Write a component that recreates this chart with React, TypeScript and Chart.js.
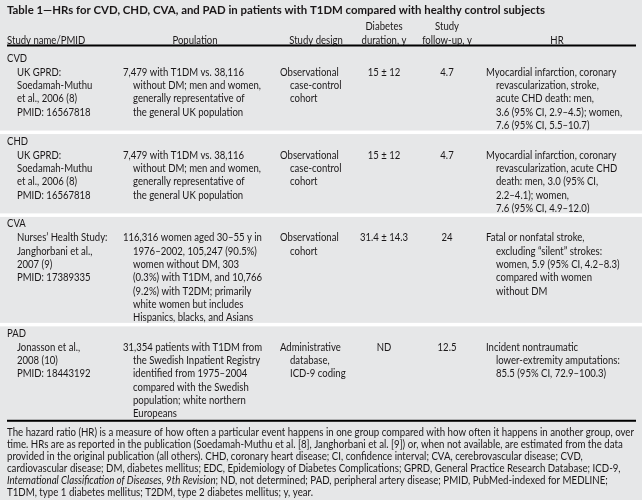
import React, { useEffect, useRef } from "react";
import { Chart, registerables } from "chart.js";

Chart.register(...registerables);

// ---------- DATA ----------
const title = "Table 1\u2014HRs for CVD, CHD, CVA, and PAD in patients with T1DM compared with healthy control subjects";

const headerStudy = ["Study name/PMID"];
const headerPopulation = ["Population"];
const headerDesign = ["Study design"];
const headerDuration = ["Diabetes", "duration, y"];
const headerFollowUp = ["Study", "follow-up, y"];
const headerHR = ["HR"];

const groups = ["CVD", "CHD", "CVA", "PAD"];

const studies = [
  ["UK GPRD:", "Soedamah-Muthu", "et al., 2006 (8)", "PMID: 16567818"],
  ["UK GPRD:", "Soedamah-Muthu", "et al., 2006 (8)", "PMID: 16567818"],
  ["Nurses\u2019 Health Study:", "Janghorbani et al.,", "2007 (9)", "PMID: 17389335"],
  ["Jonasson et al.,", "2008 (10)", "PMID: 18443192"],
];

const populations = [
  ["7,479 with T1DM vs. 38,116", "without DM; men and women,", "generally representative of", "the general UK population"],
  ["7,479 with T1DM vs. 38,116", "without DM; men and women,", "generally representative of", "the general UK population"],
  [
    "116,316 women aged 30\u201355 y in",
    "1976\u20132002, 105,247 (90.5%)",
    "women without DM, 303",
    "(0.3%) with T1DM, and 10,766",
    "(9.2%) with T2DM; primarily",
    "white women but includes",
    "Hispanics, blacks, and Asians",
  ],
  [
    "31,354 patients with T1DM from",
    "the Swedish Inpatient Registry",
    "identified from 1975\u20132004",
    "compared with the Swedish",
    "population; white northern",
    "Europeans",
  ],
];

const designs = [
  ["Observational", "case-control", "cohort"],
  ["Observational", "case-control", "cohort"],
  ["Observational", "cohort"],
  ["Administrative", "database,", "ICD-9 coding"],
];

const durations = ["15 \u00b1 12", "15 \u00b1 12", "31.4 \u00b1 14.3", "ND"];
const followUps = ["4.7", "4.7", "24", "12.5"];

const hrs = [
  [
    "Myocardial infarction, coronary",
    "revascularization, stroke,",
    "acute CHD death: men,",
    "3.6 (95% CI, 2.9\u20134.5); women,",
    "7.6 (95% CI, 5.5\u201310.7)",
  ],
  [
    "Myocardial infarction, coronary",
    "revascularization, acute CHD",
    "death: men, 3.0 (95% CI,",
    "2.2\u20134.1); women,",
    "7.6 (95% CI, 4.9\u201312.0)",
  ],
  [
    "Fatal or nonfatal stroke,",
    "excluding \u201csilent\u201d strokes:",
    "women, 5.9 (95% CI, 4.2\u20138.3)",
    "compared with women",
    "without DM",
  ],
  ["Incident nontraumatic", "lower-extremity amputations:", "85.5 (95% CI, 72.9\u2013100.3)"],
];

// footnote lines: segments [text, italic]
const footnote: [string, boolean][][] = [
  [["The hazard ratio (HR) is a measure of how often a particular event happens in one group compared with how often it happens in another group, over", false]],
  [["time. HRs are as reported in the publication (Soedamah-Muthu et al. [8], Janghorbani et al. [9]) or, when not available, are estimated from the data", false]],
  [["provided in the original publication (all others). CHD, coronary heart disease; CI, confidence interval; CVA, cerebrovascular disease; CVD,", false]],
  [["cardiovascular disease; DM, diabetes mellitus; EDC, Epidemiology of Diabetes Complications; GPRD, General Practice Research Database; ICD-9,", false]],
  [
    ["International Classification of Diseases, 9th Revision", true],
    ["; ND, not determined; PAD, peripheral artery disease; PMID, PubMed-indexed for MEDLINE;", false],
  ],
  [["T1DM, type 1 diabetes mellitus; T2DM, type 2 diabetes mellitus; y, year.", false]],
];

// ---------- LAYOUT / STYLE ----------
const W = 642;
const H = 500;
const BG = "#e6e7e8";
const INK = "#1a1718";
const FONT = "Lato, 'Open Sans', sans-serif";
const BODY_SIZE = 11.5;
const TITLE_SIZE = 12;
const FOOT_SIZE = 10.5;
const LINE_H = 13.33;
const FOOT_LINE_H = 12;

const COL = {
  left: 7,
  right: 636,
  study: 17,
  pop: 123,
  popCenter: 195,
  design: 280,
  designCenter: 316,
  durCenter: 384,
  fuCenter: 447,
  hr: 486,
  hrCenter: 557,
  indent: 10,
};

const tablePlugin = {
  id: "tablePlugin",
  beforeDraw(chart: any) {
    const ctx = chart.ctx as CanvasRenderingContext2D;
    ctx.save();
    ctx.fillStyle = BG;
    ctx.fillRect(0, 0, chart.width, chart.height);
    ctx.restore();
  },
  afterDraw(chart: any) {
    const ctx = chart.ctx as CanvasRenderingContext2D;
    const xs = chart.scales.x;
    const ys = chart.scales.y;
    const X = (v: number) => xs.getPixelForValue(v);
    const Y = (v: number) => ys.getPixelForValue(v);

    const fontStr = (size: number, bold = false, italic = false) =>
      `${italic ? "italic " : ""}${bold ? "bold " : ""}${size}px ${FONT}`;

    // condensation factors so that reference strings match measured widths
    ctx.save();
    ctx.font = fontStr(BODY_SIZE);
    const kBody = (X(244) - X(123)) / ctx.measureText(populations[0][0]).width;
    ctx.font = fontStr(TITLE_SIZE, true);
    const kTitle = (X(545) - X(7)) / ctx.measureText(title).width;
    ctx.font = fontStr(FOOT_SIZE);
    const kFoot = (X(634) - X(7)) / ctx.measureText(footnote[0][0][0]).width;
    ctx.restore();

    const draw = (
      str: string,
      x: number,
      y: number,
      font: string,
      k: number,
      align: "left" | "center" = "left"
    ) => {
      ctx.save();
      ctx.font = font;
      const w = ctx.measureText(str).width * k;
      const left = align === "center" ? X(x) - w / 2 : X(x);
      ctx.translate(left, Y(y));
      ctx.scale(k, 1);
      ctx.fillStyle = INK;
      ctx.textAlign = "left";
      ctx.textBaseline = "middle";
      ctx.fillText(str, 0, 0);
      ctx.restore();
      return w;
    };

    const body = fontStr(BODY_SIZE);

    // title
    draw(title, COL.left, 10, fontStr(TITLE_SIZE, true), kTitle);

    // header
    const h1 = 26;
    const h2 = 40;
    draw(headerStudy[0], COL.left, h2, body, kBody);
    draw(headerPopulation[0], COL.popCenter, h2, body, kBody, "center");
    draw(headerDesign[0], COL.designCenter, h2, body, kBody, "center");
    draw(headerDuration[0], COL.durCenter, h1, body, kBody, "center");
    draw(headerDuration[1], COL.durCenter, h2, body, kBody, "center");
    draw(headerFollowUp[0], COL.fuCenter, h1, body, kBody, "center");
    draw(headerFollowUp[1], COL.fuCenter, h2, body, kBody, "center");
    draw(headerHR[0], COL.hrCenter, h2, body, kBody, "center");

    const hline = (y: number, thick: number, color: string) => {
      ctx.save();
      ctx.fillStyle = color;
      ctx.fillRect(X(COL.left), Y(y) - thick / 2, X(COL.right) - X(COL.left), thick);
      ctx.restore();
    };
    hline(45.5, 2, "#000000");

    // rows
    let labelY = 58;
    groups.forEach((g, i) => {
      draw(g, COL.left, labelY, body, kBody);
      const first = labelY + 14;
      studies[i].forEach((s, j) => draw(s, COL.study, first + j * LINE_H, body, kBody));
      populations[i].forEach((s, j) =>
        draw(s, COL.pop + (j > 0 ? COL.indent : 0), first + j * LINE_H, body, kBody)
      );
      designs[i].forEach((s, j) =>
        draw(s, COL.design + (j > 0 ? COL.indent : 0), first + j * LINE_H, body, kBody)
      );
      draw(durations[i], COL.durCenter, first, body, kBody, "center");
      draw(followUps[i], COL.fuCenter, first, body, kBody, "center");
      hrs[i].forEach((s, j) =>
        draw(s, COL.hr + (j > 0 ? COL.indent : 0), first + j * LINE_H, body, kBody)
      );
      const n = Math.max(studies[i].length, populations[i].length, designs[i].length, hrs[i].length);
      const last = first + (n - 1) * LINE_H;
      const sep = last + 7;
      if (i < groups.length - 1) {
        ctx.save();
        ctx.fillStyle = "#ffffff";
        ctx.fillRect(0, Y(sep) - 1.75, chart.width, 3.5);
        ctx.restore();
        labelY = sep + 8.5;
      } else {
        hline(sep, 2, "#000000");
        // footnote
        let fy = sep + 11.5;
        footnote.forEach((line) => {
          let x = COL.left;
          line.forEach(([txt, it]) => {
            const w = draw(txt, x, fy, fontStr(FOOT_SIZE, false, it), kFoot);
            x += w;
          });
          fy += FOOT_LINE_H;
        });
      }
    });
  },
};

export default function App() {
  const ref = useRef<HTMLCanvasElement | null>(null);

  useEffect(() => {
    document.body.style.margin = "0";
    document.body.style.background = BG;
    const canvas = ref.current;
    if (!canvas) return;
    const chart = new Chart(canvas, {
      type: "scatter",
      data: { datasets: [{ data: [], showLine: false }] },
      options: {
        animation: false,
        responsive: false,
        devicePixelRatio: 1,
        layout: { padding: 0 },
        plugins: { legend: { display: false }, tooltip: { enabled: false }, title: { display: false } },
        scales: {
          x: { type: "linear", min: 0, max: W, display: false },
          y: { type: "linear", min: 0, max: H, reverse: true, display: false },
        },
      },
      plugins: [tablePlugin],
    });
    return () => chart.destroy();
  }, []);

  return (
    <div style={{ position: "absolute", left: 0, top: 0, width: W, height: H, background: BG }}>
      <canvas ref={ref} width={W} height={H} style={{ display: "block", width: W, height: H }} />
    </div>
  );
}
